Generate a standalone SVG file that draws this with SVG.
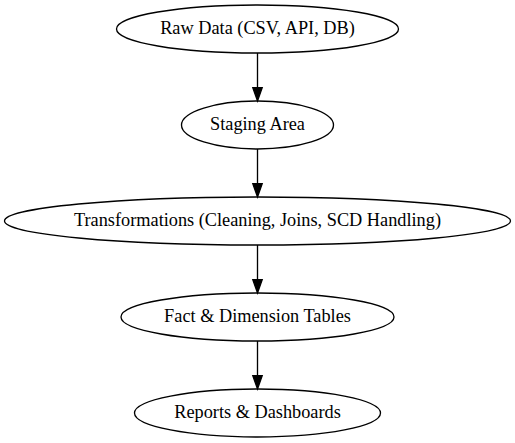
<svg xmlns="http://www.w3.org/2000/svg" width="515" height="443" viewBox="0 0 515 443">
<style>
.n ellipse{fill:none;stroke:#000;stroke-width:1.33}
.n text{font-family:"Liberation Serif","Times New Roman",serif;font-size:18.3px;fill:#000;text-anchor:middle}
.e line{stroke:#000;stroke-width:1.33}
.e polygon{fill:#000;stroke:#000;stroke-width:1.33}
</style>
<rect width="515" height="443" fill="#fff"/>
<g id="connectors" class="e">
<line x1="257.5" y1="53" x2="257.5" y2="87.7"/>
<polygon points="252.8,87.7 262.2,87.7 257.5,101"/>
<line x1="257.5" y1="149" x2="257.5" y2="183.7"/>
<polygon points="252.8,183.7 262.2,183.7 257.5,197"/>
<line x1="257.5" y1="245" x2="257.5" y2="279.7"/>
<polygon points="252.8,279.7 262.2,279.7 257.5,293"/>
<line x1="257.5" y1="341" x2="257.5" y2="375.7"/>
<polygon points="252.8,375.7 262.2,375.7 257.5,389"/>
</g>
<g id="raw" class="n">
<ellipse cx="257.5" cy="29" rx="141" ry="24"/>
<text x="257.5" y="34.3">Raw Data (CSV, API, DB)</text>
</g>
<g id="staging" class="n">
<ellipse cx="257.5" cy="125" rx="76" ry="24"/>
<text x="257.5" y="130.3">Staging Area</text>
</g>
<g id="transform" class="n">
<ellipse cx="257.5" cy="221" rx="253" ry="24"/>
<text x="257.5" y="226.3">Transformations (Cleaning, Joins, SCD Handling)</text>
</g>
<g id="fact" class="n">
<ellipse cx="257.5" cy="317" rx="136.5" ry="24"/>
<text x="257.5" y="322.3">Fact &amp; Dimension Tables</text>
</g>
<g id="reports" class="n">
<ellipse cx="257.5" cy="413" rx="123" ry="24"/>
<text x="257.5" y="418.3">Reports &amp; Dashboards</text>
</g>
</svg>
